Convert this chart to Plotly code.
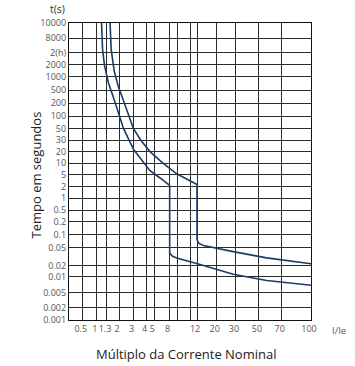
import numpy as np
import plotly.graph_objects as go

# ---- data ----
# axis tick values / labels (the reference uses a hand-drawn, non-uniform log paper)
x_tick_values = [0.5, 1, 1.3, 2, 3, 4, 5, 8, 10, 11, 12, 20, 30, 50, 70, 100]
x_tick_labels = ["0.5", "1", "1.3", "2", "3", "4", "5", "8", "", "", "12", "20", "30", "50", "70", "100"]
y_tick_values = [0.001, 0.002, 0.005, 0.01, 0.02, 0.05, 0.1, 0.2, 0.5, 1, 2, 5, 10, 20, 30, 50,
                 100, 200, 500, 1000, 2000, 7200, 8000, 10000]
y_tick_labels = ["0.001", "0.002", "0.005", "0.01", "0.02", "0.05", "0.1", "0.2", "0.5", "1",
                 "2", "5", "10", "20", "30", "50", "100", "200", "500", "1000", "2000",
                 "2(h)", "8000", "10000"]

# cold-state curve (I/Ie, seconds)
curve_a_x = [1.13, 1.16, 1.22, 1.37, 1.68, 2.04, 2.26, 3.0, 4.4, 5.95, 8.0,
             8.0, 8.7, 9.8, 13, 28.3, 56, 100]
curve_a_y = [10000, 7350, 1880, 717, 256, 99, 50, 21.5, 6.4, 3.9, 2.2,
             0.0376, 0.0319, 0.0291, 0.021, 0.0117, 0.0085, 0.0069]
# hot-state curve
curve_b_x = [1.45, 1.51, 1.68, 1.94, 2.31, 2.98, 3.5, 4.4, 6.5, 9.8, 12,
             12, 12.6, 14.2, 28.3, 56, 100]
curve_b_y = [10000, 7350, 1370, 605, 205, 50, 30, 20, 10, 5.3, 2.36,
             0.076, 0.0625, 0.056, 0.0405, 0.0294, 0.0217]

# ---- axis scale of the printed paper: where each grid value sits (fraction of the axis) ----
X_GRID_POS = [0.057, 0.115, 0.157, 0.207, 0.267, 0.321, 0.353, 0.416, 0.448, 0.500, 0.529,
              0.610, 0.690, 0.785, 0.879, 1.0]
Y_GRID_POS = [0.0, 0.042, 0.093, 0.145, 0.184, 0.244, 0.287, 0.331, 0.370, 0.410, 0.449,
              0.489, 0.528, 0.567, 0.606, 0.645, 0.686, 0.730, 0.774, 0.820, 0.860, 0.901,
              0.949, 1.0]


def x_scale(v):
    return np.interp(np.log10(v), np.log10(x_tick_values), X_GRID_POS)


def y_scale(v):
    return np.interp(np.log10(v), np.log10(y_tick_values), Y_GRID_POS)


LINE = "#1c3b68"
GRID = "#2b2b2b"
FONT = "Open Sans"

fig = go.Figure()
for xs, ys in [(curve_a_x, curve_a_y), (curve_b_x, curve_b_y)]:
    fig.add_trace(go.Scatter(x=x_scale(xs), y=y_scale(ys), mode="lines",
                             line=dict(color=LINE, width=1.6), showlegend=False,
                             hoverinfo="skip"))

fig.update_layout(
    width=355, height=366,
    margin=dict(l=69, r=44, t=23, b=46),
    paper_bgcolor="white", plot_bgcolor="white",
    font=dict(family=FONT, color="#222"),
    xaxis=dict(range=[0, 1], tickvals=X_GRID_POS, ticktext=x_tick_labels, tickangle=0,
               ticklabelshift=-2,
               showgrid=True, gridcolor=GRID, gridwidth=1, showline=True, linecolor="#111",
               linewidth=1.2, mirror=True, zeroline=False, ticks="",
               tickfont=dict(size=9, color="#555")),
    yaxis=dict(range=[0, 1], tickvals=Y_GRID_POS, ticktext=y_tick_labels,
               showgrid=True, gridcolor=GRID, gridwidth=1, showline=True, linecolor="#111",
               linewidth=1.2, mirror=True, zeroline=False, ticks="",
               tickfont=dict(size=9, color="#555")),
    annotations=[
        dict(text="t(s)", xref="paper", yref="paper", x=0, y=1, xanchor="right",
             yanchor="middle", xshift=-2, yshift=14, showarrow=False,
             font=dict(size=10.5, color="#333")),
        dict(text="I/Ie", xref="paper", yref="paper", x=1, y=0, xanchor="left",
             yanchor="middle", xshift=19, yshift=-10, showarrow=False,
             font=dict(size=9.5, color="#555")),
        dict(text="Tempo em segundos", xref="paper", yref="paper", x=0, y=0.5,
             xanchor="center", yanchor="middle", xshift=-34, yshift=-4, textangle=-90,
             showarrow=False, font=dict(size=13, color="#222")),
        dict(text="Múltiplo da Corrente Nominal", xref="paper", yref="paper", x=0.5, y=0,
             xanchor="center", yanchor="middle", xshift=-4, yshift=-34,
             showarrow=False, font=dict(size=13, color="#222")),
    ],
)

fig.write_html("out.html", config={"displayModeBar": False},
               post_script="document.body.style.margin='0';")
